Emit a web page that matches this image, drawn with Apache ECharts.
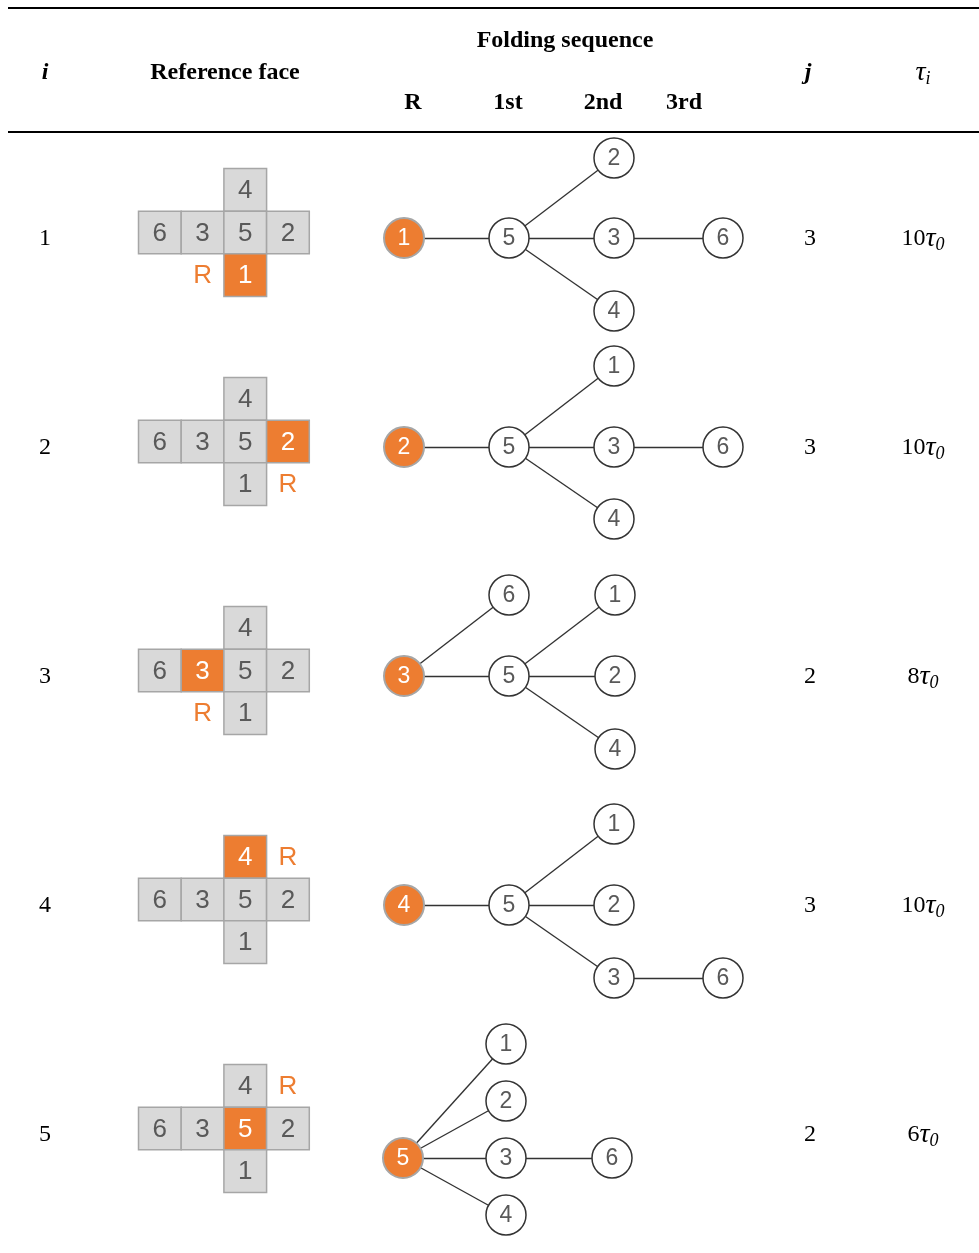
<!DOCTYPE html>
<html>
<head>
<meta charset="utf-8">
<style>
  html, body { margin: 0; padding: 0; background: #ffffff; }
  #chart { width: 979px; height: 1253px; }
</style>
<script src="https://cdn.jsdelivr.net/npm/echarts@6/dist/echarts.min.js"></script>
</head>
<body>
<div id="chart"></div>
<script>
// ---------------- DATA ----------------
const rowIndex = [1, 2, 3, 4, 5];
const referenceFace = [1, 2, 3, 4, 5];
// cube net: which face sits in which net slot (column, row of the cross)
const netFaces = [4, 6, 3, 5, 2, 1];
const netSlotCol = [2, 0, 1, 2, 3, 2];
const netSlotRow = [0, 1, 1, 1, 1, 2];
// slot of the "R" marker next to the reference face, per row
const rMarkCol = [1, 3, 1, 3, 3];
const rMarkRow = [2, 2, 2, 0, 0];
// folding trees: edges [parent, child]
const treeEdges1 = [[1, 5], [5, 2], [5, 3], [5, 4], [3, 6]];
const treeEdges2 = [[2, 5], [5, 1], [5, 3], [5, 4], [3, 6]];
const treeEdges3 = [[3, 6], [3, 5], [5, 1], [5, 2], [5, 4]];
const treeEdges4 = [[4, 5], [5, 1], [5, 2], [5, 3], [3, 6]];
const treeEdges5 = [[5, 1], [5, 2], [5, 3], [5, 4], [3, 6]];
// lane (ordinal vertical slot) of each face in each tree
const treeLanes1 = { 1: 0, 5: 0, 2: -1, 3: 0, 4: 1, 6: 0 };
const treeLanes2 = { 2: 0, 5: 0, 1: -1, 3: 0, 4: 1, 6: 0 };
const treeLanes3 = { 3: 0, 6: -1, 5: 0, 1: -1, 2: 0, 4: 1 };
const treeLanes4 = { 4: 0, 5: 0, 1: -1, 2: 0, 3: 1, 6: 1 };
const treeLanes5 = { 5: 0, 1: -2, 2: -1, 3: 0, 4: 1, 6: 0 };
const jValues = [3, 3, 2, 3, 2];
const tauCoef = [10, 10, 8, 10, 6];
const headerColumns = ['R', '1st', '2nd', '3rd'];

// ---------------- LAYOUT (presentation only) ----------------
const W = 979, H = 1253;
const ROW_Y = [238, 447, 676, 905, 1134];
const TREE_X = [
  [404, 509, 614, 723], [404, 509, 614, 723], [404, 509, 615, 723],
  [404, 509, 614, 723], [403, 506, 612, 723]
];
const NET_LEFT = 138.5, CELL = 42.7, NET_SHIFT = -5.5;
const COL_I = 45, COL_J = 810, COL_TAU = 923;
const laneCfg = [
  { up: 80, down: 73, shift: 0 },
  { up: 81, down: 72, shift: 0 },
  { up: 81, down: 73, shift: 0 },
  { up: 81, down: 73, shift: 0 },
  { up: 57, down: 57, shift: 24 }
];
const ORANGE = '#ED7D31';
const GREY_TXT = '#595959';
const SERIF = '"Liberation Serif", "Times New Roman", serif';
const SANS = '"Liberation Sans", Arial, sans-serif';

const trees = [treeEdges1, treeEdges2, treeEdges3, treeEdges4, treeEdges5];
const lanes = [treeLanes1, treeLanes2, treeLanes3, treeLanes4, treeLanes5];

// net cells
const netCells = [];
const rMarks = [];
rowIndex.forEach((r, k) => {
  const cy = ROW_Y[k] + NET_SHIFT;
  netFaces.forEach((f, n) => {
    const isRef = f === referenceFace[k];
    netCells.push({
      value: [NET_LEFT + (netSlotCol[n] + 0.5) * CELL, cy + (netSlotRow[n] - 1) * CELL],
      face: f,
      itemStyle: { color: isRef ? ORANGE : '#D9D9D9', borderColor: '#A6A6A6', borderWidth: 1.5, opacity: 1 },
      label: { color: isRef ? '#ffffff' : GREY_TXT }
    });
  });
  rMarks.push([NET_LEFT + (rMarkCol[k] + 0.5) * CELL, cy + (rMarkRow[k] - 1) * CELL]);
});

// tree nodes and edges
const nodes = [];
const edges = [];
trees.forEach((edgeList, k) => {
  const root = referenceFace[k];
  const depth = { [root]: 0 };
  let changed = true;
  while (changed) {
    changed = false;
    edgeList.forEach(([p, c]) => {
      if (depth[p] !== undefined && depth[c] === undefined) { depth[c] = depth[p] + 1; changed = true; }
    });
  }
  const cfg = laneCfg[k];
  const pos = {};
  Object.keys(depth).forEach(f => {
    const ln = lanes[k][f];
    const y = ROW_Y[k] + cfg.shift + (ln < 0 ? ln * cfg.up : ln * cfg.down);
    const x = TREE_X[k][depth[f]];
    const isRef = +f === root;
    pos[f] = [x, y];
    nodes.push({
      value: [x, y], face: +f,
      itemStyle: isRef
        ? { color: ORANGE, borderColor: '#A6A6A6', borderWidth: 2, opacity: 1 }
        : { color: '#ffffff', borderColor: '#333333', borderWidth: 1.5, opacity: 1 },
      label: { color: isRef ? '#ffffff' : GREY_TXT }
    });
  });
  edgeList.forEach(([p, c]) => edges.push({ coords: [pos[p], pos[c]] }));
});

const iCells = rowIndex.map((r, k) => ({ value: [COL_I, ROW_Y[k] + 1], txt: String(r) }));
const jCells = jValues.map((v, k) => ({ value: [COL_J, ROW_Y[k] + 1], txt: String(v) }));
const tauCells = tauCoef.map((v, k) => ({ value: [COL_TAU, ROW_Y[k] + 1], txt: '{n|' + v + '}{t|τ}{s|0}' }));

const textSeries = (data, rich, fontSize) => ({
  type: 'scatter', data, symbolSize: 1, itemStyle: { color: 'rgba(0,0,0,0)', opacity: 1 }, silent: true, z: 5,
  label: {
    show: true, position: 'inside', formatter: p => p.data.txt,
    fontFamily: SERIF, fontSize: fontSize, color: '#000', opacity: 1, rich: rich
  }
});

const tauRich = {
  n: { fontFamily: SERIF, fontSize: 24, color: '#000' },
  t: { fontFamily: SERIF, fontSize: 28, fontStyle: 'italic', color: '#000' },
  s: { fontFamily: SERIF, fontSize: 18, fontStyle: 'italic', color: '#000', padding: [12, 0, 0, 0] }
};

const headerTexts = [
  { text: 'Folding sequence', x: 565, y: 41 },
  { text: 'Reference face', x: 225, y: 73 },
  { text: 'i', x: 45, y: 73, italic: true },
  { text: 'j', x: 808, y: 73, italic: true }
];
const colHeaderX = [413, 508, 603, 684];

const graphic = [
  { type: 'line', shape: { x1: 8, y1: 8, x2: W, y2: 8 }, style: { stroke: '#000', lineWidth: 2 } },
  { type: 'line', shape: { x1: 8, y1: 132, x2: W, y2: 132 }, style: { stroke: '#000', lineWidth: 2 } }
];
headerTexts.forEach(h => graphic.push({
  type: 'text', x: h.x, y: h.y,
  style: { text: h.text, fill: '#000', font: (h.italic ? 'italic ' : '') + 'bold 24px ' + SERIF, align: 'center', verticalAlign: 'middle' }
}));
headerColumns.forEach((c, n) => graphic.push({
  type: 'text', x: colHeaderX[n], y: 103,
  style: { text: c, fill: '#000', font: 'bold 24px ' + SERIF, align: 'center', verticalAlign: 'middle' }
}));
graphic.push({
  type: 'text', x: 923, y: 73,
  style: {
    text: '{t|τ}{s|i}', align: 'center', verticalAlign: 'middle',
    rich: {
      t: { fontFamily: SERIF, fontSize: 28, fontStyle: 'italic', fill: '#000' },
      s: { fontFamily: SERIF, fontSize: 18, fontStyle: 'italic', fill: '#000', padding: [12, 0, 0, 0] }
    }
  }
});

const option = {
  animation: false,
  backgroundColor: '#ffffff',
  grid: { left: 0, top: 0, width: W, height: H },
  xAxis: { type: 'value', min: 0, max: W, show: false },
  yAxis: { type: 'value', min: 0, max: H, inverse: true, show: false },
  graphic: graphic,
  series: [
    {
      type: 'scatter', data: netCells, symbol: 'rect', symbolSize: [CELL, CELL], z: 2, silent: true,
      itemStyle: { opacity: 1 },
      label: {
        show: true, position: 'inside', formatter: p => String(p.data.face),
        fontFamily: SANS, fontSize: 26, color: GREY_TXT, offset: [0, 1]
      }
    },
    {
      type: 'scatter', data: rMarks, symbolSize: 1, itemStyle: { color: 'rgba(0,0,0,0)', opacity: 1 }, silent: true, z: 3,
      label: { show: true, position: 'inside', formatter: 'R', fontFamily: SANS, fontSize: 26, color: ORANGE, opacity: 1, offset: [0, 1] }
    },
    {
      type: 'lines', coordinateSystem: 'cartesian2d', data: edges, z: 2, silent: true,
      lineStyle: { color: '#333333', width: 1.4, opacity: 1 }
    },
    {
      type: 'scatter', data: nodes, symbol: 'circle', symbolSize: 40, z: 4, silent: true,
      itemStyle: { opacity: 1 },
      label: {
        show: true, position: 'inside', formatter: p => String(p.data.face),
        fontFamily: SANS, fontSize: 23, color: GREY_TXT, offset: [0, 1]
      }
    },
    textSeries(iCells, null, 24),
    textSeries(jCells, null, 24),
    textSeries(tauCells, tauRich, 24)
  ]
};

const chart = echarts.init(document.getElementById('chart'), null, { renderer: 'canvas' });
chart.setOption(option);
</script>
</body>
</html>
